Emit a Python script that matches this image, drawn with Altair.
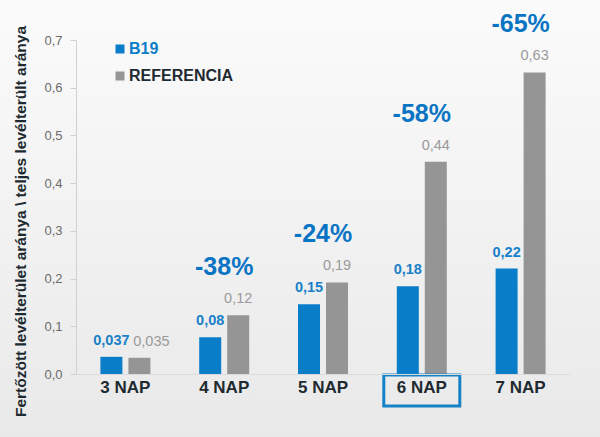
import altair as alt
import pandas as pd

categories = ["3 NAP", "4 NAP", "5 NAP", "6 NAP", "7 NAP"]
b19_values = [0.036, 0.077, 0.146, 0.184, 0.221]
ref_values = [0.034, 0.123, 0.192, 0.445, 0.632]
b19_labels = ["0,037", "0,08", "0,15", "0,18", "0,22"]
ref_labels = ["0,035", "0,12", "0,19", "0,44", "0,63"]
pct_labels = ["", "-38%", "-24%", "-58%", "-65%"]
highlight = ["6 NAP"]
series = ["B19", "REFERENCIA"]

BLUE = "#0a7dc8"
GRAY = "#959595"
FONT = "Liberation Sans"

rows = []
for i, c in enumerate(categories):
    rows.append({"cat": c, "series": series[0], "value": b19_values[i], "label": b19_labels[i], "idx": i})
    rows.append({"cat": c, "series": series[1], "value": ref_values[i], "label": ref_labels[i], "idx": i})
df = pd.DataFrame(rows)
pct_df = pd.DataFrame({"cat": categories, "value": ref_values, "pct": pct_labels})
pct_df = pct_df[pct_df["pct"] != ""]
hl_df = pd.DataFrame({"cat": highlight})

W, H = 494, 334

xscale = alt.Scale(domain=categories, paddingInner=0.494, paddingOuter=0.247)
yscale = alt.Scale(domain=[0, 0.7])
offscale = alt.Scale(domain=series, paddingInner=0.214, paddingOuter=0)

x_enc = alt.X("cat:N", scale=xscale, sort=categories,
              axis=alt.Axis(title=None, labelAngle=0, labelFont=FONT, labelFontSize=17,
                            labelFontWeight="bold", labelColor="#1e2a30", ticks=False,
                            domainColor="#dadada", labelPadding=5, zindex=1))
y_enc = alt.Y("value:Q", scale=yscale,
              axis=alt.Axis(title="Fertőzött levélterület aránya \\ teljes levélterült aránya",
                            values=[0, 0.1, 0.2, 0.3, 0.4, 0.5, 0.6, 0.7],
                            labelExpr="replace(format(datum.value, '.1f'), '.', ',')",
                            labelFont=FONT, labelFontSize=13, labelColor="#6b6b6b",
                            tickColor="#d0d0d0", tickSize=6, domainColor="#d0d0d0",
                            labelPadding=8, grid=False, zindex=1,
                            titleFont=FONT, titleFontSize=15.5, titleFontWeight="bold",
                            titleColor="#1e2a30", titleX=-56, titleY=181,
                            titleAngle=270, titleAlign="center", titleBaseline="middle"))

color_enc = alt.Color("series:N", scale=alt.Scale(domain=series, range=[BLUE, GRAY]),
                      legend=alt.Legend(title=None, orient="none", legendX=36, legendY=1,
                                        symbolType="square", symbolSize=81, symbolStrokeWidth=0,
                                        labelFont=FONT, labelFontSize=16, labelFontWeight="bold",
                                        labelColor={"expr": "datum.label === 'B19' ? '#0a7dc8' : '#1e2a30'"},
                                        labelOffset=1, rowPadding=11, padding=0))

bg = alt.Chart(pd.DataFrame({"k": [0]})).mark_rect(
    clip=False,
    color=alt.Gradient(gradient="linear", x1=0, y1=0, x2=0, y2=1,
                       stops=[alt.GradientStop(offset=0, color="#fbfbfb"),
                              alt.GradientStop(offset=1, color="#e9e9e9")])
).encode(x=alt.value(-76), x2=alt.value(524), y=alt.value(-40), y2=alt.value(397))

bars = alt.Chart(df).mark_bar().encode(
    x=x_enc, y=y_enc, xOffset=alt.XOffset("series:N", scale=offscale, sort=series),
    color=color_enc)

base_text = alt.Chart(df).encode(
    x=alt.X("cat:N", scale=xscale, sort=categories),
    y=alt.Y("value:Q", scale=yscale),
    xOffset=alt.XOffset("series:N", scale=offscale, sort=series),
    text="label:N")

blue_text = base_text.transform_filter(alt.datum.series == "B19").mark_text(
    font=FONT, fontSize=14.5, fontWeight="bold", color="#1a80c8", baseline="middle", dy=-16)
gray_text = base_text.transform_filter((alt.datum.series == "REFERENCIA") & (alt.datum.idx > 0)).mark_text(
    font=FONT, fontSize=14.5, color="#9a9a9a", baseline="middle", dy=-16)
gray_text0 = base_text.transform_filter((alt.datum.series == "REFERENCIA") & (alt.datum.idx == 0)).mark_text(
    font=FONT, fontSize=14.5, color="#9a9a9a", baseline="middle", dy=-16, dx=12)

pct = alt.Chart(pct_df).mark_text(
    font=FONT, fontSize=25, fontWeight="bold", color="#0a74c4", baseline="middle", dy=-48
).encode(x=alt.X("cat:N", scale=xscale, sort=categories),
         y=alt.Y("value:Q", scale=yscale), text="pct:N")

box = alt.Chart(hl_df).mark_bar(width=76, filled=False, stroke="#1582c8", strokeWidth=3, clip=False).encode(
    x=alt.X("cat:N", scale=xscale, sort=categories),
    y=alt.value(335), y2=alt.value(366))

chart = alt.layer(bg, bars, blue_text, gray_text, gray_text0, pct, box).properties(
    width=W, height=H,
    autosize=alt.AutoSizeParams(type="none"),
    padding={"left": 76, "top": 40, "right": 30, "bottom": 63},
    background="#f2f2f2"
).configure_view(stroke=None)

chart.save("out.html", embed_options={"renderer": "svg", "actions": False})
